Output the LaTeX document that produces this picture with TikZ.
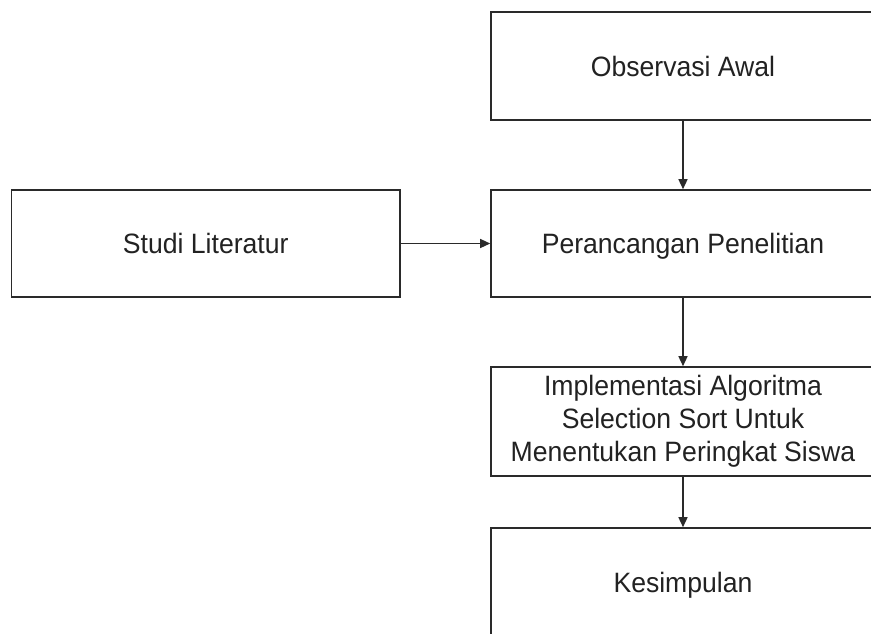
\documentclass[tikz,border=0pt]{standalone}
\usepackage{fontspec}
\setmainfont{Liberation Sans}[FakeStretch=0.95]
\usetikzlibrary{arrows.meta}
\definecolor{linec}{HTML}{2A2A2A}
\definecolor{textc}{HTML}{222222}
\tikzset{
  box/.style={draw=linec, line width=1.6pt, rectangle, inner sep=0pt,
    font=\fontsize{28pt}{33pt}\selectfont, text=textc, align=center},
  oneline/.style={text height=20pt, text depth=0pt},
  arr/.style={draw=linec, line width=1.4pt, -{Triangle[length=10pt,width=9pt]}}
}
\begin{document}
\begin{tikzpicture}[x=1pt,y=-1pt]
\useasboundingbox (0,0) rectangle (871,633);
\clip (0,0) rectangle (871,633);
\fill[white] (0,0) rectangle (871,633);
\node[box, oneline, minimum width=384pt, minimum height=108pt] (obs) at (683,66) {Observasi Awal};
\node[box, oneline, minimum width=384pt, minimum height=107pt] (per) at (683,243.5) {Perancangan Penelitian};
\node[box, oneline, minimum width=388.5pt, minimum height=107pt] (stu) at (205.75,243.5) {Studi Literatur};
\node[box, minimum width=384pt, minimum height=109pt] (imp) at (683,421.5) {Implementasi Algoritma\\Selection Sort Untuk\\Menentukan Peringkat Siswa};
\node[box, oneline, minimum width=384pt, minimum height=108pt] (kes) at (683,582) {Kesimpulan};
\draw[arr] (obs) -- (per);
\draw[arr] (stu) -- (per);
\draw[arr] (per) -- (imp);
\draw[arr] (imp) -- (kes);
\end{tikzpicture}
\end{document}
